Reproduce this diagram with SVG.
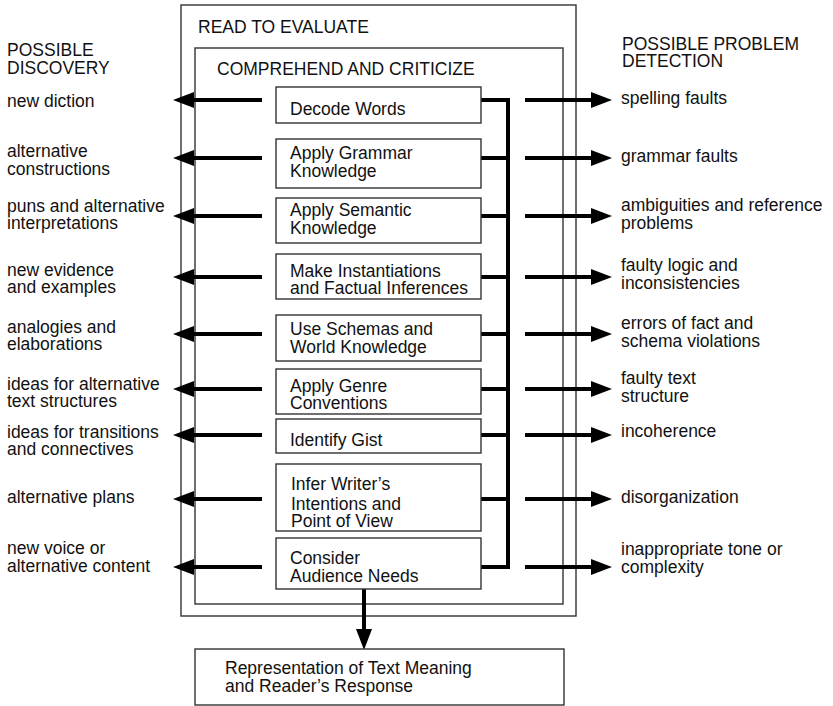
<svg xmlns="http://www.w3.org/2000/svg" width="833" height="706" viewBox="0 0 833 706">
  <style>
    text { font-family: "Liberation Sans", Arial, Helvetica, sans-serif; font-size: 17.5px; fill: #111; }
    .frame { fill: none; stroke: #333; stroke-width: 1.4; }
    .box { fill: #fff; stroke: #333; stroke-width: 1.4; }
    .flow { fill: none; stroke: #000; stroke-width: 4; }
    .bus { fill: none; stroke: #000; stroke-width: 4; stroke-linejoin: miter; }
  </style>
  <defs>
    <marker id="head" viewBox="0 0 21 16" refX="0" refY="8" markerWidth="21" markerHeight="16" markerUnits="userSpaceOnUse" orient="auto">
      <path d="M0,0 L21,8 L0,16 Z" fill="#000"/>
    </marker>
  </defs>
  <rect width="833" height="706" fill="#fff"/>

  <!-- column headings -->
  <g id="discovery-heading">
    <text x="7" y="56">POSSIBLE</text>
    <text x="7" y="74">DISCOVERY</text>
  </g>
  <g id="detection-heading">
    <text x="622" y="50">POSSIBLE PROBLEM</text>
    <text x="622" y="67">DETECTION</text>
  </g>

  <!-- nested process frames -->
  <g id="read-to-evaluate">
    <rect class="frame" x="181" y="5" width="395" height="611"/>
    <text x="198" y="33">READ TO EVALUATE</text>
  </g>
  <g id="comprehend-and-criticize">
    <rect class="frame" x="195" y="48" width="368" height="556"/>
    <text x="217" y="75">COMPREHEND AND CRITICIZE</text>
  </g>

  <!-- connectors -->
  <g id="connectors">
    <!-- bus collecting every subprocess on the right -->
    <path class="bus" d="M481,100 H508 V567 H481 M481,158 H508 M481,216 H508 M481,277 H508 M481,334 H508 M481,389 H508 M481,435 H508 M481,499 H508"/>
    <!-- discovery arrows (left) -->
    <g marker-end="url(#head)">
      <line class="flow" x1="262" y1="100" x2="194" y2="100"/>
      <line class="flow" x1="262" y1="158" x2="194" y2="158"/>
      <line class="flow" x1="262" y1="216" x2="194" y2="216"/>
      <line class="flow" x1="262" y1="277" x2="194" y2="277"/>
      <line class="flow" x1="262" y1="334" x2="194" y2="334"/>
      <line class="flow" x1="262" y1="389" x2="194" y2="389"/>
      <line class="flow" x1="262" y1="435" x2="194" y2="435"/>
      <line class="flow" x1="262" y1="499" x2="194" y2="499"/>
      <line class="flow" x1="262" y1="567" x2="194" y2="567"/>
    </g>
    <!-- problem detection arrows (right) -->
    <g marker-end="url(#head)">
      <line class="flow" x1="525" y1="100" x2="591" y2="100"/>
      <line class="flow" x1="525" y1="158" x2="591" y2="158"/>
      <line class="flow" x1="525" y1="216" x2="591" y2="216"/>
      <line class="flow" x1="525" y1="277" x2="591" y2="277"/>
      <line class="flow" x1="525" y1="334" x2="591" y2="334"/>
      <line class="flow" x1="525" y1="389" x2="591" y2="389"/>
      <line class="flow" x1="525" y1="435" x2="591" y2="435"/>
      <line class="flow" x1="525" y1="499" x2="591" y2="499"/>
      <line class="flow" x1="525" y1="567" x2="591" y2="567"/>
    </g>
    <!-- output to representation -->
    <line class="flow" x1="364" y1="589" x2="364" y2="629" marker-end="url(#head)"/>
  </g>

  <!-- subprocess nodes -->
  <g id="decode-words">
    <rect class="box" x="276" y="87" width="205" height="36"/>
    <text x="290" y="115">Decode Words</text>
  </g>
  <g id="apply-grammar">
    <rect class="box" x="276" y="139" width="205" height="49"/>
    <text x="290" y="159">Apply Grammar</text>
    <text x="290" y="177">Knowledge</text>
  </g>
  <g id="apply-semantic">
    <rect class="box" x="276" y="198" width="205" height="45"/>
    <text x="290" y="216">Apply Semantic</text>
    <text x="290" y="234">Knowledge</text>
  </g>
  <g id="make-instantiations">
    <rect class="box" x="276" y="254" width="205" height="45"/>
    <text x="290" y="277">Make Instantiations</text>
    <text x="290" y="294">and Factual Inferences</text>
  </g>
  <g id="use-schemas">
    <rect class="box" x="276" y="315" width="205" height="46"/>
    <text x="290" y="335">Use Schemas and</text>
    <text x="290" y="353">World Knowledge</text>
  </g>
  <g id="apply-genre">
    <rect class="box" x="276" y="369" width="205" height="45"/>
    <text x="290" y="392">Apply Genre</text>
    <text x="290" y="409">Conventions</text>
  </g>
  <g id="identify-gist">
    <rect class="box" x="276" y="419" width="205" height="34"/>
    <text x="290" y="446">Identify Gist</text>
  </g>
  <g id="infer-intentions">
    <rect class="box" x="276" y="464" width="205" height="67"/>
    <text x="291" y="490">Infer Writer’s</text>
    <text x="291" y="510">Intentions and</text>
    <text x="291" y="527">Point of View</text>
  </g>
  <g id="consider-audience">
    <rect class="box" x="276" y="538" width="205" height="51"/>
    <text x="290" y="564">Consider</text>
    <text x="290" y="582">Audience Needs</text>
  </g>

  <!-- output node -->
  <g id="representation">
    <rect class="box" x="195" y="649" width="369" height="56"/>
    <text x="225" y="674">Representation of Text Meaning</text>
    <text x="225" y="692">and Reader’s Response</text>
  </g>

  <!-- discovery outcomes -->
  <g id="discoveries">
    <text x="7" y="107">new diction</text>
    <text x="7" y="157">alternative</text>
    <text x="7" y="175">constructions</text>
    <text x="7" y="212">puns and alternative</text>
    <text x="7" y="229">interpretations</text>
    <text x="7" y="276">new evidence</text>
    <text x="7" y="293">and examples</text>
    <text x="7" y="333">analogies and</text>
    <text x="7" y="350">elaborations</text>
    <text x="7" y="390">ideas for alternative</text>
    <text x="7" y="407">text structures</text>
    <text x="7" y="438">ideas for transitions</text>
    <text x="7" y="455">and connectives</text>
    <text x="7" y="503">alternative plans</text>
    <text x="7" y="554">new voice or</text>
    <text x="7" y="572">alternative content</text>
  </g>

  <!-- detected problems -->
  <g id="problems">
    <text x="621" y="104">spelling faults</text>
    <text x="621" y="162">grammar faults</text>
    <text x="621" y="211">ambiguities and reference</text>
    <text x="621" y="229">problems</text>
    <text x="621" y="271">faulty logic and</text>
    <text x="621" y="289">inconsistencies</text>
    <text x="621" y="329">errors of fact and</text>
    <text x="621" y="347">schema violations</text>
    <text x="621" y="384">faulty text</text>
    <text x="621" y="402">structure</text>
    <text x="621" y="437">incoherence</text>
    <text x="621" y="503">disorganization</text>
    <text x="621" y="555">inappropriate tone or</text>
    <text x="621" y="573">complexity</text>
  </g>
</svg>
